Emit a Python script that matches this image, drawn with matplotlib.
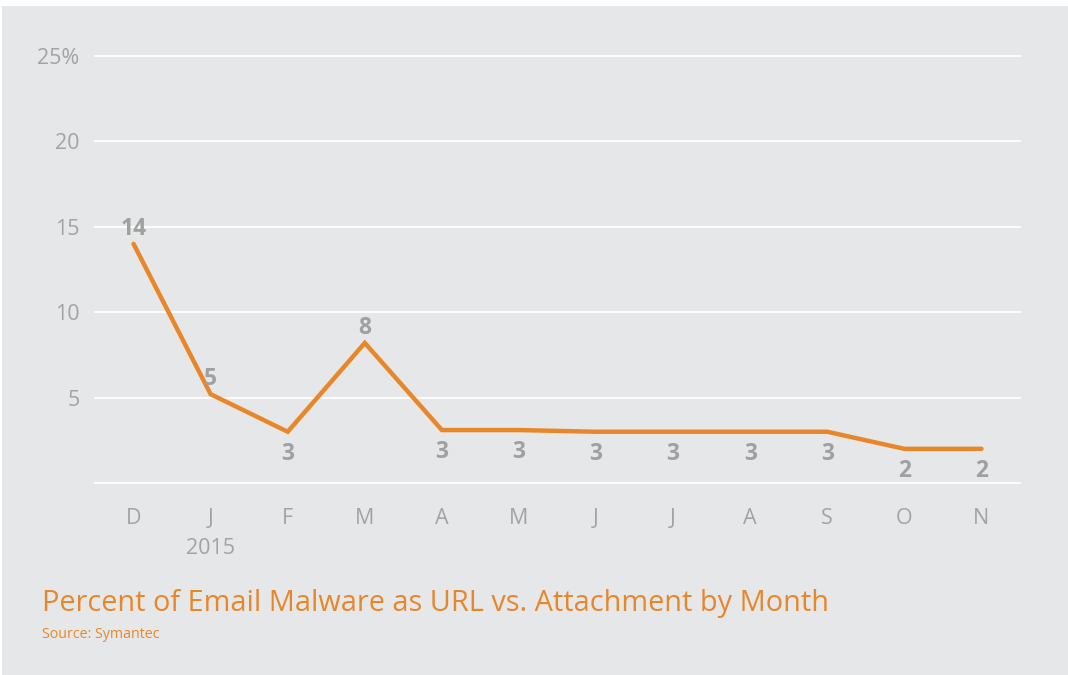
import matplotlib.pyplot as plt
from matplotlib.patches import Rectangle

months = ['D', 'J', 'F', 'M', 'A', 'M', 'J', 'J', 'A', 'S', 'O', 'N']
values = [14.0, 5.2, 3.0, 8.2, 3.1, 3.1, 3.0, 3.0, 3.0, 3.0, 2.0, 2.0]
labels = ['14', '5', '3', '8', '3', '3', '3', '3', '3', '3', '2', '2']
label_above = [True, True, False, True, False, False, False, False, False, False, False, False]
yticks = [5, 10, 15, 20, 25]
ytick_labels = ['5', '10', '15', '20', '25%']

bg = '#e6e7e8'
orange = '#e8872a'
tick_gray = '#a3a3a3'
label_gray = '#a0a0a0'

plt.rcParams['font.family'] = ['Open Sans', 'DejaVu Sans']

fig = plt.figure(figsize=(10.68, 6.75), dpi=100, facecolor='white')
fig.patches.append(Rectangle((2 / 1068, 0), 1, 669 / 675, transform=fig.transFigure,
                             facecolor=bg, edgecolor='none', zorder=-10))

W, H = 1068, 675
ax = fig.add_axes([95 / W, (H - 483) / H, (1020 - 95) / W, (483 - 56) / H])
ax.patch.set_alpha(0)

x = list(range(len(months)))
ax.set_xlim(-0.5, len(months) - 0.5)
ax.set_ylim(0, 25)

for yv in [0] + yticks:
    ax.axhline(yv, color='white', linewidth=1.3, zorder=1, clip_on=False)

ax.plot(x, values, color=orange, linewidth=3.2, solid_capstyle='round',
        solid_joinstyle='miter', zorder=3)

for xi, v, lab, up in zip(x, values, labels, label_above):
    dy = 11 if up else -16
    ax.annotate(lab, (xi, v), xytext=(0, dy), textcoords='offset points',
                ha='center', va='center', fontsize=16.5, fontweight='bold', color=label_gray)

ax.set_xticks(x)
ax.set_xticklabels(months, fontsize=15.5, color=tick_gray)
ax.set_yticks(yticks)
ax.set_yticklabels(ytick_labels, fontsize=15.5, color=tick_gray)
ax.tick_params(axis='both', length=0)
ax.tick_params(axis='x', pad=18)
ax.tick_params(axis='y', pad=11)
for s in ax.spines.values():
    s.set_visible(False)

ax.annotate('2015', (1, 0), xytext=(0, -47.5), textcoords='offset points',
            ha='center', va='center', fontsize=15.5, color=tick_gray, annotation_clip=False)

fig.text(42 / W, 1 - 603 / H, 'Percent of Email Malware as URL vs. Attachment by Month',
         fontsize=20.8, color=orange, ha='left', va='center')
fig.text(42 / W, 1 - 634 / H, 'Source: Symantec', fontsize=10.3, color=orange,
         ha='left', va='center')

fig.savefig('out.png', dpi=100, facecolor='white')
